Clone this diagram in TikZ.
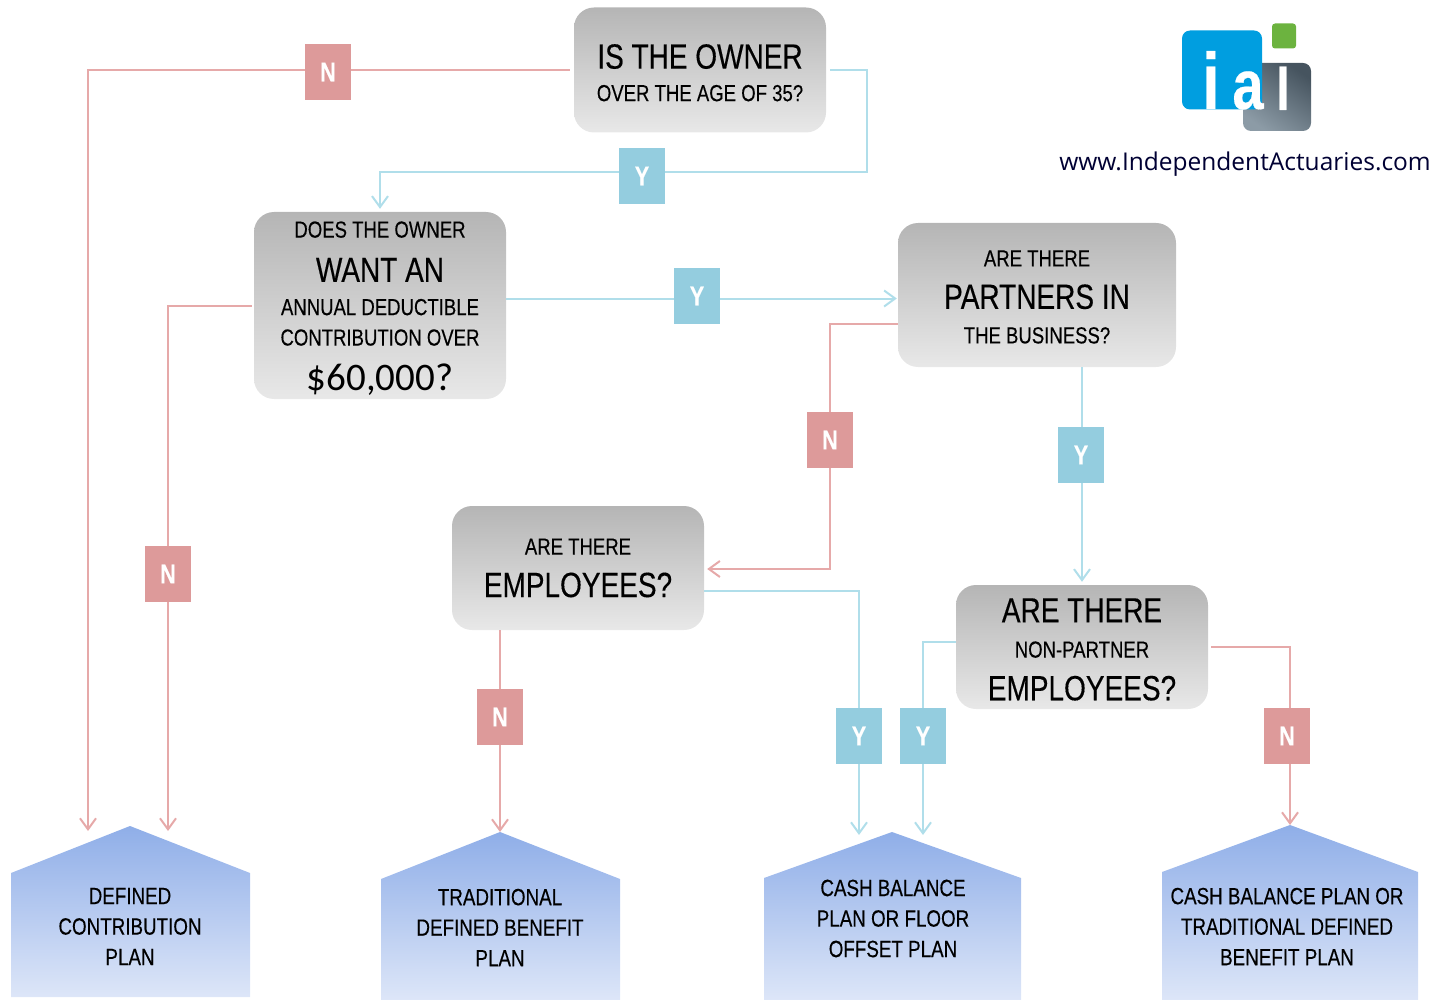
\documentclass[tikz,border=0pt]{standalone}
\usepackage{fontspec}
\setmainfont[FakeStretch=0.8,FakeBold=0.3]{Liberation Sans}
\newfontfamily\pricefont{Carlito}
\newfontfamily\urlfont{Open Sans}
\usetikzlibrary{arrows.meta}
\definecolor{noline}{HTML}{E6A9A9}
\definecolor{yesline}{HTML}{B0DEEA}
\definecolor{nofill}{HTML}{DD9A9A}
\definecolor{yesfill}{HTML}{94CDDF}
\definecolor{housetop}{HTML}{8FAEE8}
\definecolor{housebottom}{HTML}{DDE6F8}
\definecolor{logoblue}{HTML}{009EE0}
\definecolor{logogreen}{HTML}{6CB33F}
\definecolor{logodark}{HTML}{46545F}
\definecolor{logolight}{HTML}{8C9BA6}
\newcommand{\largeline}{\fontsize{35}{37}\selectfont}
\newcommand{\smallline}{\fontsize{23.2}{31}\selectfont}
\newcommand{\planline}{\fontsize{23.5}{30.5}\selectfont}
\newcommand{\pad}[1]{\rule{0pt}{#1pt}}

\begin{document}
\begin{tikzpicture}[
        x=1pt, y=-1pt,
        every node/.style={align=center, inner sep=0pt},
        box/.style={rectangle, rounded corners=20pt, top color=black!29, bottom color=black!9, minimum width=252pt},
        house/.style={top color=housetop, bottom color=housebottom},
        yes/.style={rectangle, fill=yesfill, text=white, minimum width=46pt, minimum height=56pt, font=\bfseries\fontsize{27}{27}\selectfont},
        no/.style={rectangle, fill=nofill, text=white, minimum width=46pt, minimum height=56pt, font=\bfseries\fontsize{27}{27}\selectfont},
        noarrow/.style={-{Straight Barb[length=11pt,width=16pt]}, line width=2pt, draw=noline},
        yesarrow/.style={-{Straight Barb[length=11pt,width=16pt]}, line width=2pt, draw=yesline},
        logobox/.style={rectangle, rounded corners=8pt, minimum width=#1}
    ]
    \useasboundingbox (0,0) rectangle (1431,1000);
    % Logo
    \node[logobox=68pt, minimum height=68pt, top color=logodark, bottom color=logolight, shading angle=-35] (logogray) at (1277,97) {};
    \node[logobox=80pt, minimum height=79pt, fill=logoblue] (logosquare) at (1222,70) {};
    \node[logobox=24pt, minimum height=25pt, rounded corners=3pt, fill=logogreen] (logodot) at (1284,36) {};
    \node[text=white, font=\bfseries\fontsize{80}{80}\selectfont, anchor=base] (logoi) at (1211,109) {i};
    \node[text=white, font=\bfseries\fontsize{70}{70}\selectfont, anchor=base] (logoa) at (1248,109) {a};
    \node[text=white, font=\bfseries\fontsize{60}{60}\selectfont, anchor=base] (logol) at (1283,110) {l};
    \node[font=\urlfont\fontsize{24.5}{26}\selectfont, text=black!80!blue] (url) at (1245,164) {www.IndependentActuaries.com};
    % Questions
    \node[box, minimum height=125pt] (owner) at (700,70) {\pad{30}{\largeline IS THE OWNER}\\[15pt]{\smallline OVER THE AGE OF 35?}};
    \node[box, minimum height=187pt] (want) at (380,305.5) {\pad{22}{\smallline DOES THE OWNER}\\[19pt]{\largeline WANT AN}\\[16pt]{\smallline ANNUAL DEDUCTIBLE}\\[13pt]{\smallline CONTRIBUTION OVER}\\[17pt]{\pricefont\fontsize{39}{42}\selectfont \$60,000?}};
    \node[box, minimum width=278pt, minimum height=144pt] (partners) at (1037,295) {\pad{20}{\smallline ARE THERE}\\[17pt]{\largeline PARTNERS IN}\\[17pt]{\smallline THE BUSINESS?}};
    \node[box, minimum height=124pt] (employees) at (578,568) {{\smallline ARE THERE}\\[17pt]{\largeline EMPLOYEES?}};
    \node[box, minimum height=124pt] (nonpartner) at (1082,647) {\pad{29}{\largeline ARE THERE}\\[18pt]{\smallline NON-PARTNER}\\[17pt]{\largeline EMPLOYEES?}};
    % Plans
    \path[house] (11,873) -- (130,826) -- (250,873) -- (250,997) -- (11,997) -- cycle;
    \path[house] (381,879) -- (500,832) -- (620,879) -- (620,1000) -- (381,1000) -- cycle;
    \path[house] (764,878) -- (892,832) -- (1021,878) -- (1021,1000) -- (764,1000) -- cycle;
    \path[house] (1162,872) -- (1290,825) -- (1418,872) -- (1418,1000) -- (1162,1000) -- cycle;
    \node[font=\planline] (contribution) at (130,926.5) {DEFINED\\CONTRIBUTION\\PLAN};
    \node[font=\planline] (traditional) at (500,927.5) {TRADITIONAL\\DEFINED BENEFIT\\PLAN};
    \node[font=\planline] (balance) at (893,918.5) {CASH BALANCE\\PLAN OR FLOOR\\OFFSET PLAN};
    \node[font=\planline] (balanceor) at (1287,926.5) {CASH BALANCE PLAN OR\\TRADITIONAL DEFINED\\BENEFIT PLAN};
    % Arrow ends
    \coordinate (contributionleft) at (88,831);
    \coordinate (contributionright) at (168,831);
    \coordinate (traditionaltop) at (500,832);
    \coordinate (balanceleft) at (859,835);
    \coordinate (balanceright) at (923,835);
    \coordinate (balanceortop) at (1290,825);
    \coordinate (ownerturn) at (867,172);
    \coordinate (partnersturn) at (830,569);
    % Arrows
    \draw[noarrow, shorten <=4pt] (owner.west) -| (contributionleft);
    \draw[yesarrow, shorten <=4pt, shorten >=3pt] (owner.east) -| (ownerturn) -| (want.north);
    \draw[yesarrow, shorten >=1pt] ([yshift=7pt]want.east) -- ([yshift=7pt]want.east -| partners.west);
    \draw[noarrow, shorten <=2pt] (want.west) -| (contributionright);
    \draw[noarrow, shorten >=3pt] ([yshift=-29pt]partners.west) -| (partnersturn) -- (partnersturn -| employees.east);
    \draw[yesarrow, shorten >=3pt] (partners.south -| nonpartner.north) -- (nonpartner.north);
    \draw[yesarrow] ([yshift=-23pt]employees.east) -| (balanceleft);
    \draw[noarrow] (employees.south -| traditionaltop) -- (traditionaltop);
    \draw[yesarrow] ([yshift=5pt]nonpartner.west) -| (balanceright);
    \draw[noarrow, shorten <=3pt] (nonpartner.east) -| (balanceortop);
    % Labels
    \node[no] (ownerno) at (328,72) {N};
    \node[yes] (owneryes) at (642,176) {Y};
    \node[yes] (wantyes) at (697,296) {Y};
    \node[no] (wantno) at (168,574) {N};
    \node[no] (partnersno) at (830,440) {N};
    \node[yes] (partnersyes) at (1081,455) {Y};
    \node[no] (employeesno) at (500,717) {N};
    \node[yes] (employeesyes) at (859,736) {Y};
    \node[yes] (nonpartneryes) at (923,736) {Y};
    \node[no] (nonpartnerno) at (1287,736) {N};
\end{tikzpicture}
\end{document}
